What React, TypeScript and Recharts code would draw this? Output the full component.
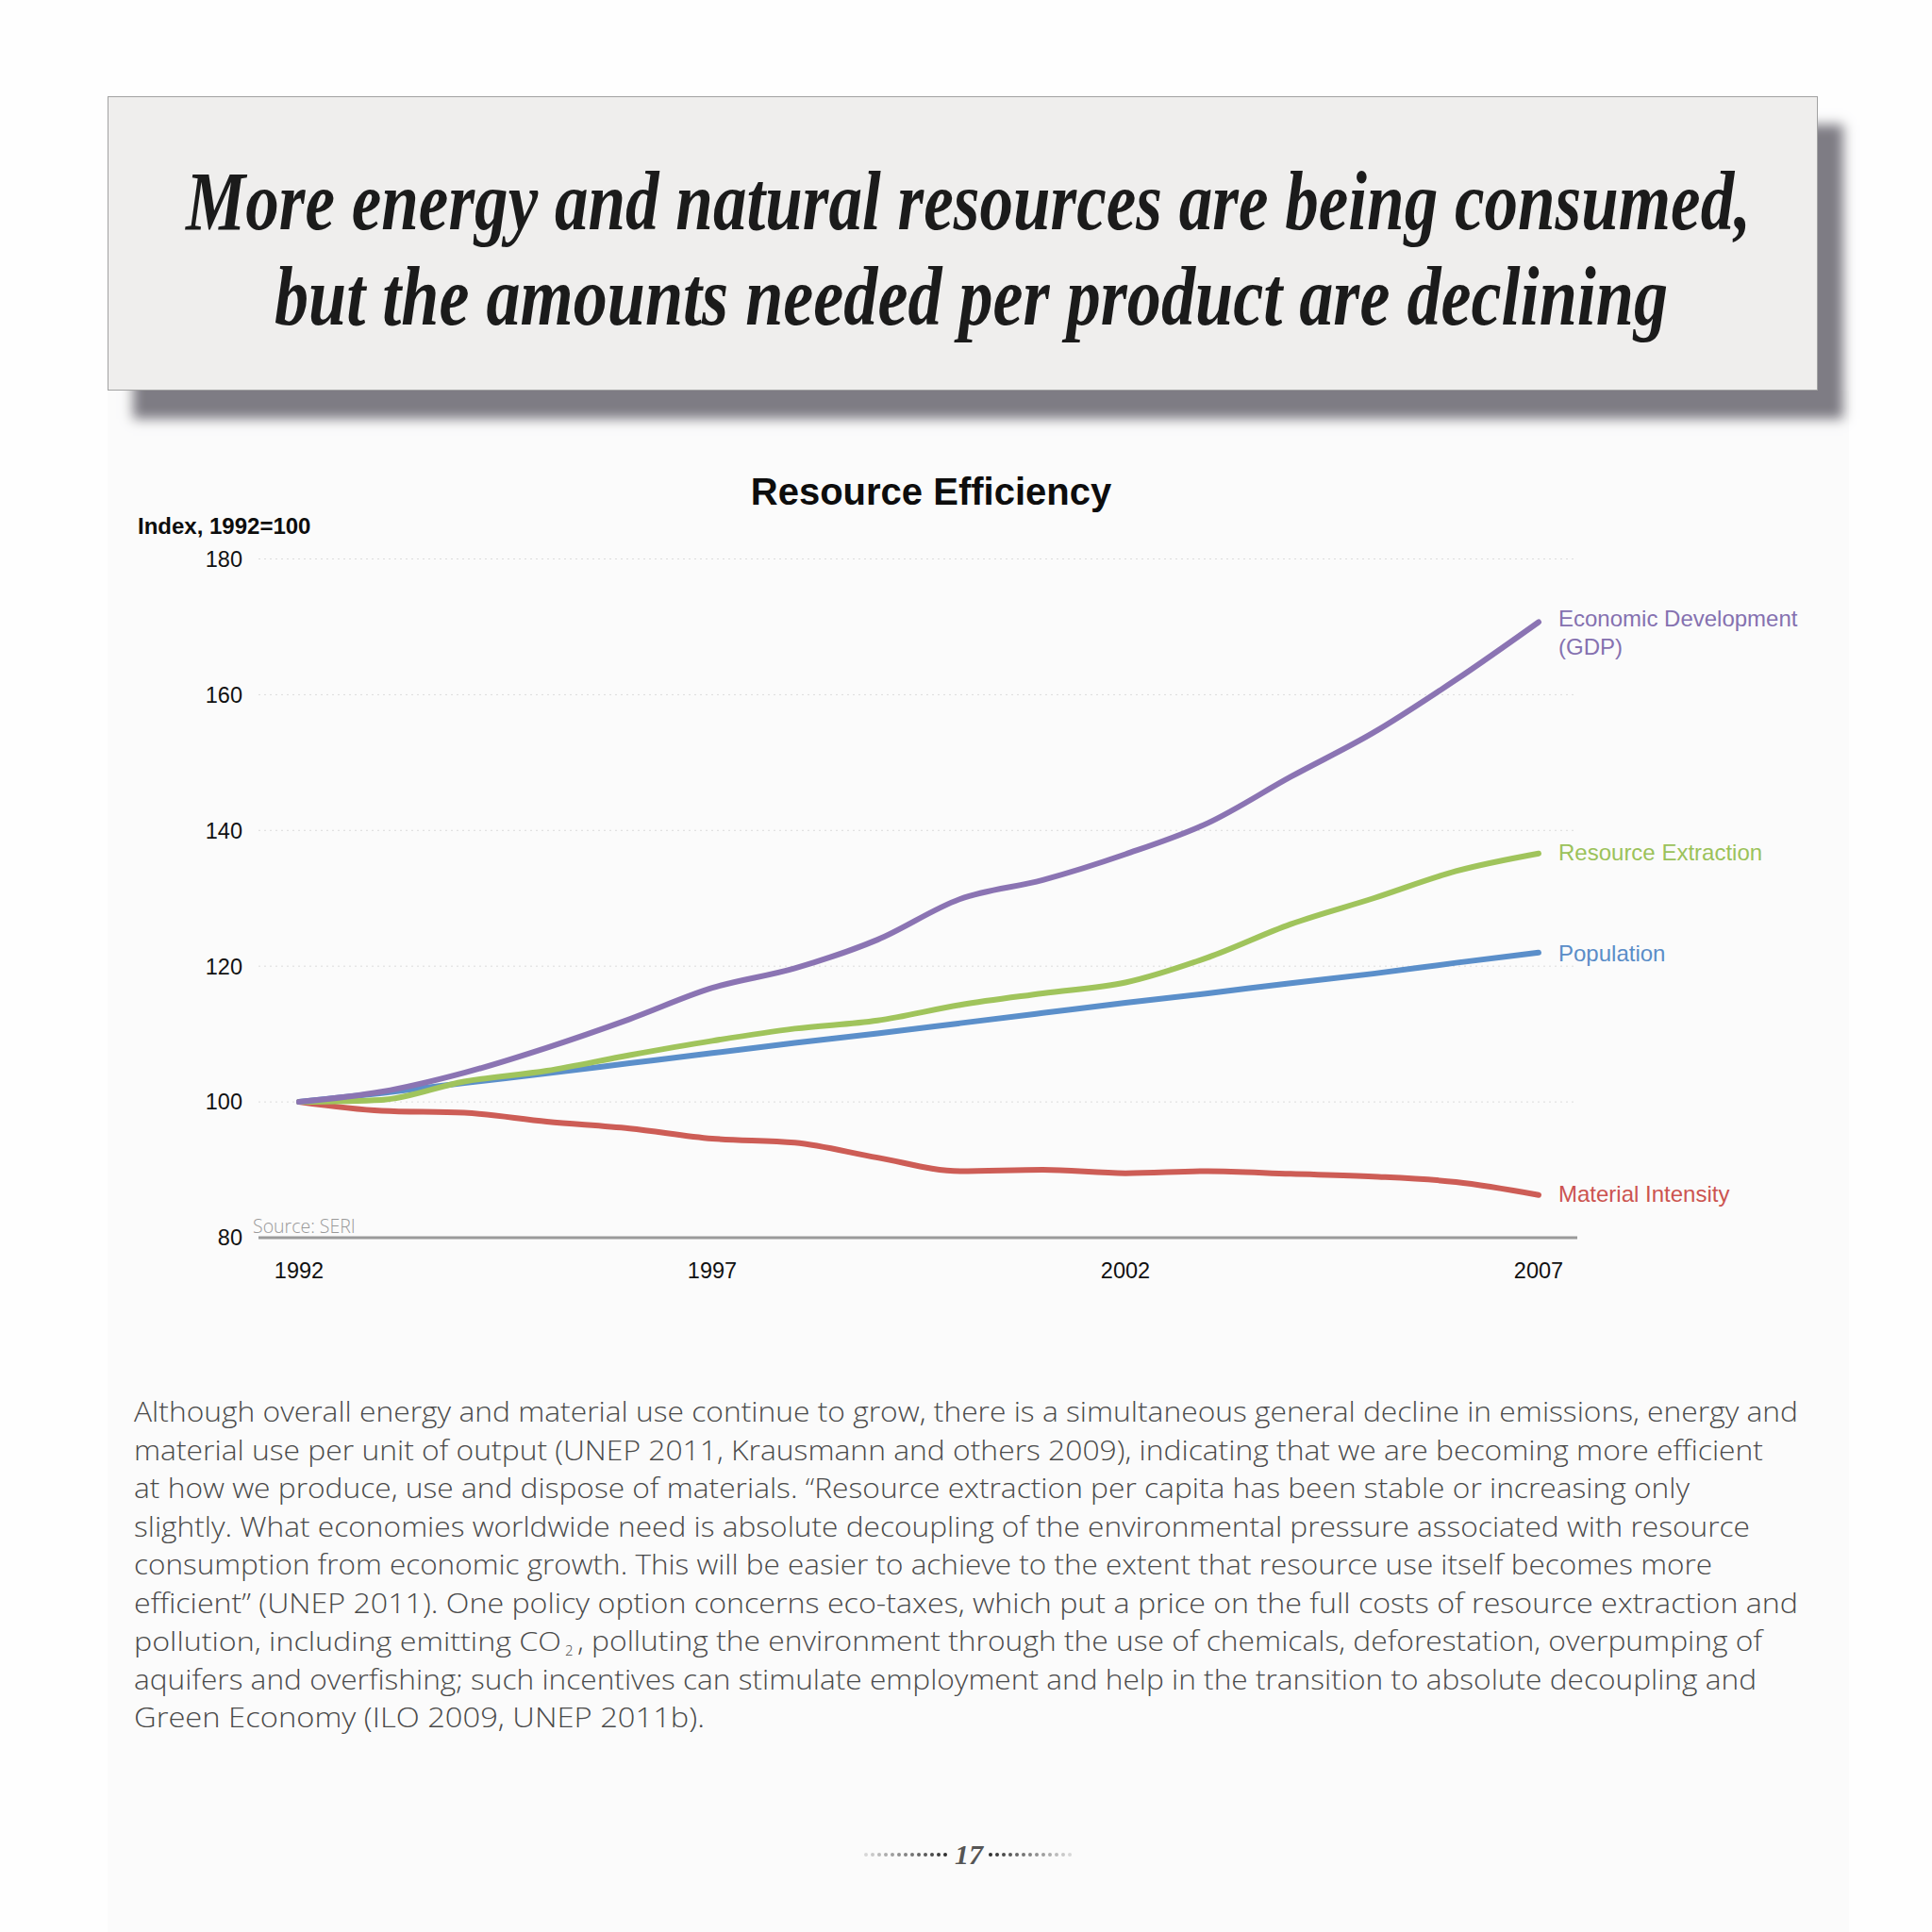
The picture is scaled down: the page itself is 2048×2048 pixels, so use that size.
import React from "react";
import { LineChart, Line, XAxis, YAxis, CartesianGrid } from "recharts";

// Index values, 1992 = 100
const years = [1992, 1993, 1994, 1995, 1996, 1997, 1998, 1999, 2000, 2001, 2002, 2003, 2004, 2005, 2006, 2007];
const gdp = [100, 101.5, 104.3, 108.0, 112.2, 116.8, 119.7, 123.9, 129.9, 132.7, 136.5, 141.1, 147.9, 154.4, 162.2, 170.7];
const resourceExtraction = [100, 100.3, 103.0, 104.6, 106.9, 109.0, 110.8, 112.0, 114.3, 116.0, 117.6, 121.3, 126.2, 130.0, 134.0, 136.6];
const population = [100, 101.3, 102.8, 104.2, 105.7, 107.2, 108.7, 110.1, 111.6, 113.1, 114.6, 116.0, 117.5, 118.9, 120.5, 122.0];
const materialIntensity = [100, 98.7, 98.4, 97.1, 96.1, 94.6, 94.0, 91.8, 89.8, 90.0, 89.5, 89.8, 89.4, 89.0, 88.2, 86.3];

const xTicks = [1992, 1997, 2002, 2007];
const yTicks = [80, 100, 120, 140, 160, 180];

// body text, one entry per printed line; [text, x, width, fontSize]
const paragraph: [string, number, number, number][][] = [
  [["Although overall energy and material use continue to grow, there is a simultaneous general decline in emissions, energy and", 142, 1764, 30]],
  [["material use per unit of output (UNEP 2011, Krausmann and others 2009), indicating that we are becoming more efficient", 142, 1727, 30]],
  [["at how we produce, use and dispose of materials. \u201cResource extraction per capita has been stable or increasing only", 142, 1649, 30]],
  [["slightly. What economies worldwide need is absolute decoupling of the environmental pressure associated with resource", 142, 1713, 30]],
  [["consumption from economic growth. This will be easier to achieve to the extent that resource use itself becomes more", 142, 1673, 30]],
  [["efficient\u201d (UNEP 2011). One policy option concerns eco-taxes, which put a price on the full costs of resource extraction and", 142, 1764, 30]],
  [["pollution, including emitting CO", 142, 453, 27], [", polluting the environment through the use of chemicals, deforestation, overpumping of", 612, 1256, 30]],
  [["aquifers and overfishing; such incentives can stimulate employment and help in the transition to absolute decoupling and", 142, 1720, 30]],
  [["Green Economy (ILO 2009, UNEP 2011b).", 142, 605, 30]],
];

const SANS = "'Liberation Sans', Arial, sans-serif";
const BODY = "'Open Sans', 'Noto Sans', sans-serif";
const SERIF = "'Liberation Serif', 'DejaVu Serif', serif";

const data = years.map((year, i) => ({
  year,
  gdp: gdp[i],
  resource: resourceExtraction[i],
  population: population[i],
  material: materialIntensity[i],
}));

function endLabel(lines: string[], color: string, dy: number) {
  return (props: any) => {
    if (props.index !== years.length - 1) return <g key={`l-${props.index}`} />;
    const x = props.x + 21;
    return (
      <text key="end" x={x} y={props.y + dy} fill={color} fontSize={24} fontFamily={SANS} dominantBaseline="central">
        {lines.map((l, i) => (
          <tspan key={i} x={x} dy={i === 0 ? 0 : 30}>{l}</tspan>
        ))}
      </text>
    );
  };
}

export default function App() {
  const dots = Array.from({ length: 13 }, (_, i) => i);
  return (
    <div style={{ position: "absolute", left: 0, top: 0, width: 2048, height: 2048, background: "#fefefe", overflow: "hidden" }}>
      {/* faint page panel */}
      <div style={{ position: "absolute", left: 114, top: 414, width: 1846, height: 1634, background: "#fbfbfb" }} />

      {/* headline box */}
      <div style={{
        position: "absolute", left: 114, top: 102, width: 1811, height: 310,
        background: "#efeeed", border: "1px solid #a2a2a2",
        boxShadow: "27px 30px 12px 0 #7e7c84",
      }}>
        <svg width={1811} height={310} style={{ display: "block" }}>
          <text transform="translate(82,140) scale(1,1.333)" textLength={1659} lengthAdjust="spacingAndGlyphs"
            fontFamily={SERIF} fontWeight={700} fontStyle="italic" fontSize={66} fill="#1b1b1b">
            More energy and natural resources are being consumed,
          </text>
          <text transform="translate(176,241) scale(1,1.333)" textLength={1477} lengthAdjust="spacingAndGlyphs"
            fontFamily={SERIF} fontWeight={700} fontStyle="italic" fontSize={66} fill="#1b1b1b">
            but the amounts needed per product are declining
          </text>
        </svg>
      </div>

      {/* chart title and axis caption */}
      <div style={{ position: "absolute", left: 0, width: 1974, top: 498, height: 46, lineHeight: "46px", textAlign: "center",
        fontFamily: SANS, fontWeight: 700, fontSize: 40, color: "#0d0d0d" }}>
        Resource Efficiency
      </div>
      <div style={{ position: "absolute", left: 146, top: 544, height: 28, lineHeight: "28px",
        fontFamily: SANS, fontWeight: 700, fontSize: 24, color: "#0d0d0d" }}>
        Index, 1992=100
      </div>

      <div style={{ position: "absolute", left: 0, top: 480 }}>
        <LineChart width={1960} height={900} data={data}
          margin={{ top: 112.5, right: 288, bottom: 8, left: 214 }}>
          <CartesianGrid vertical={false} stroke="#dcdcdc" strokeDasharray="2 4" strokeWidth={1} />
          <XAxis dataKey="year" type="number" domain={[1992, 2007]} ticks={xTicks}
            padding={{ left: 43, right: 41 }} height={60}
            axisLine={{ stroke: "#9a9a9a", strokeWidth: 3 }} tickLine={false} tickSize={0} tickMargin={26}
            tick={{ fontSize: 23.5, fill: "#111", fontFamily: SANS }} />
          <YAxis domain={[80, 180]} ticks={yTicks} width={60}
            axisLine={false} tickLine={false} tickSize={0} tickMargin={17}
            tick={{ fontSize: 23.5, fill: "#111", fontFamily: SANS }} />
          <Line type="monotone" dataKey="material" stroke="#cd5d56" strokeWidth={6} strokeLinecap="round"
            dot={false} activeDot={false} isAnimationActive={false}
            label={endLabel(["Material Intensity"], "#cc5450", -2)} />
          <Line type="monotone" dataKey="population" stroke="#5b8fca" strokeWidth={6} strokeLinecap="round"
            dot={false} activeDot={false} isAnimationActive={false}
            label={endLabel(["Population"], "#5a8dc8", 0)} />
          <Line type="monotone" dataKey="resource" stroke="#a0c45c" strokeWidth={6} strokeLinecap="round"
            dot={false} activeDot={false} isAnimationActive={false}
            label={endLabel(["Resource Extraction"], "#9bc25a", -2)} />
          <Line type="monotone" dataKey="gdp" stroke="#8b74b3" strokeWidth={6} strokeLinecap="round"
            dot={false} activeDot={false} isAnimationActive={false}
            label={endLabel(["Economic Development", "(GDP)"], "#8571b0", -4)} />
        </LineChart>
      </div>

      <div style={{ position: "absolute", left: 268, top: 1287, height: 26, lineHeight: "26px",
        fontFamily: BODY, fontWeight: 300, fontSize: 19.5, color: "#999" }}>
        Source: SERI
      </div>

      {/* body text */}
      <svg style={{ position: "absolute", left: 0, top: 0 }} width={2048} height={2048}>
        {paragraph.map((parts, i) => (
          <g key={i}>
            {parts.map(([t, x, w, fs], j) => (
              <text key={j} x={x} y={1507 + i * 40.5} textLength={w} lengthAdjust="spacingAndGlyphs"
                fontFamily={BODY} fontWeight={300} fontSize={fs} fill="#4a4a4a">{t}</text>
            ))}
          </g>
        ))}
        <text x={599} y={1507 + 6 * 40.5 + 5} fontFamily={BODY} fontWeight={300} fontSize={15} fill="#4a4a4a">2</text>

        {/* page number */}
        {dots.map((i) => {
          const shade = Math.round(215 - i * 14);
          const c = `rgb(${shade},${shade},${shade})`;
          return (
            <g key={i}>
              <circle cx={918 + i * 7} cy={1966} r={2} fill={c} />
              <circle cx={1134 - i * 7} cy={1966} r={2} fill={c} />
            </g>
          );
        })}
        <text x={1027} y={1976} textAnchor="middle" fontFamily={SERIF} fontWeight={700}
          fontStyle="italic" fontSize={30} fill="#555">17</text>
      </svg>
    </div>
  );
}
